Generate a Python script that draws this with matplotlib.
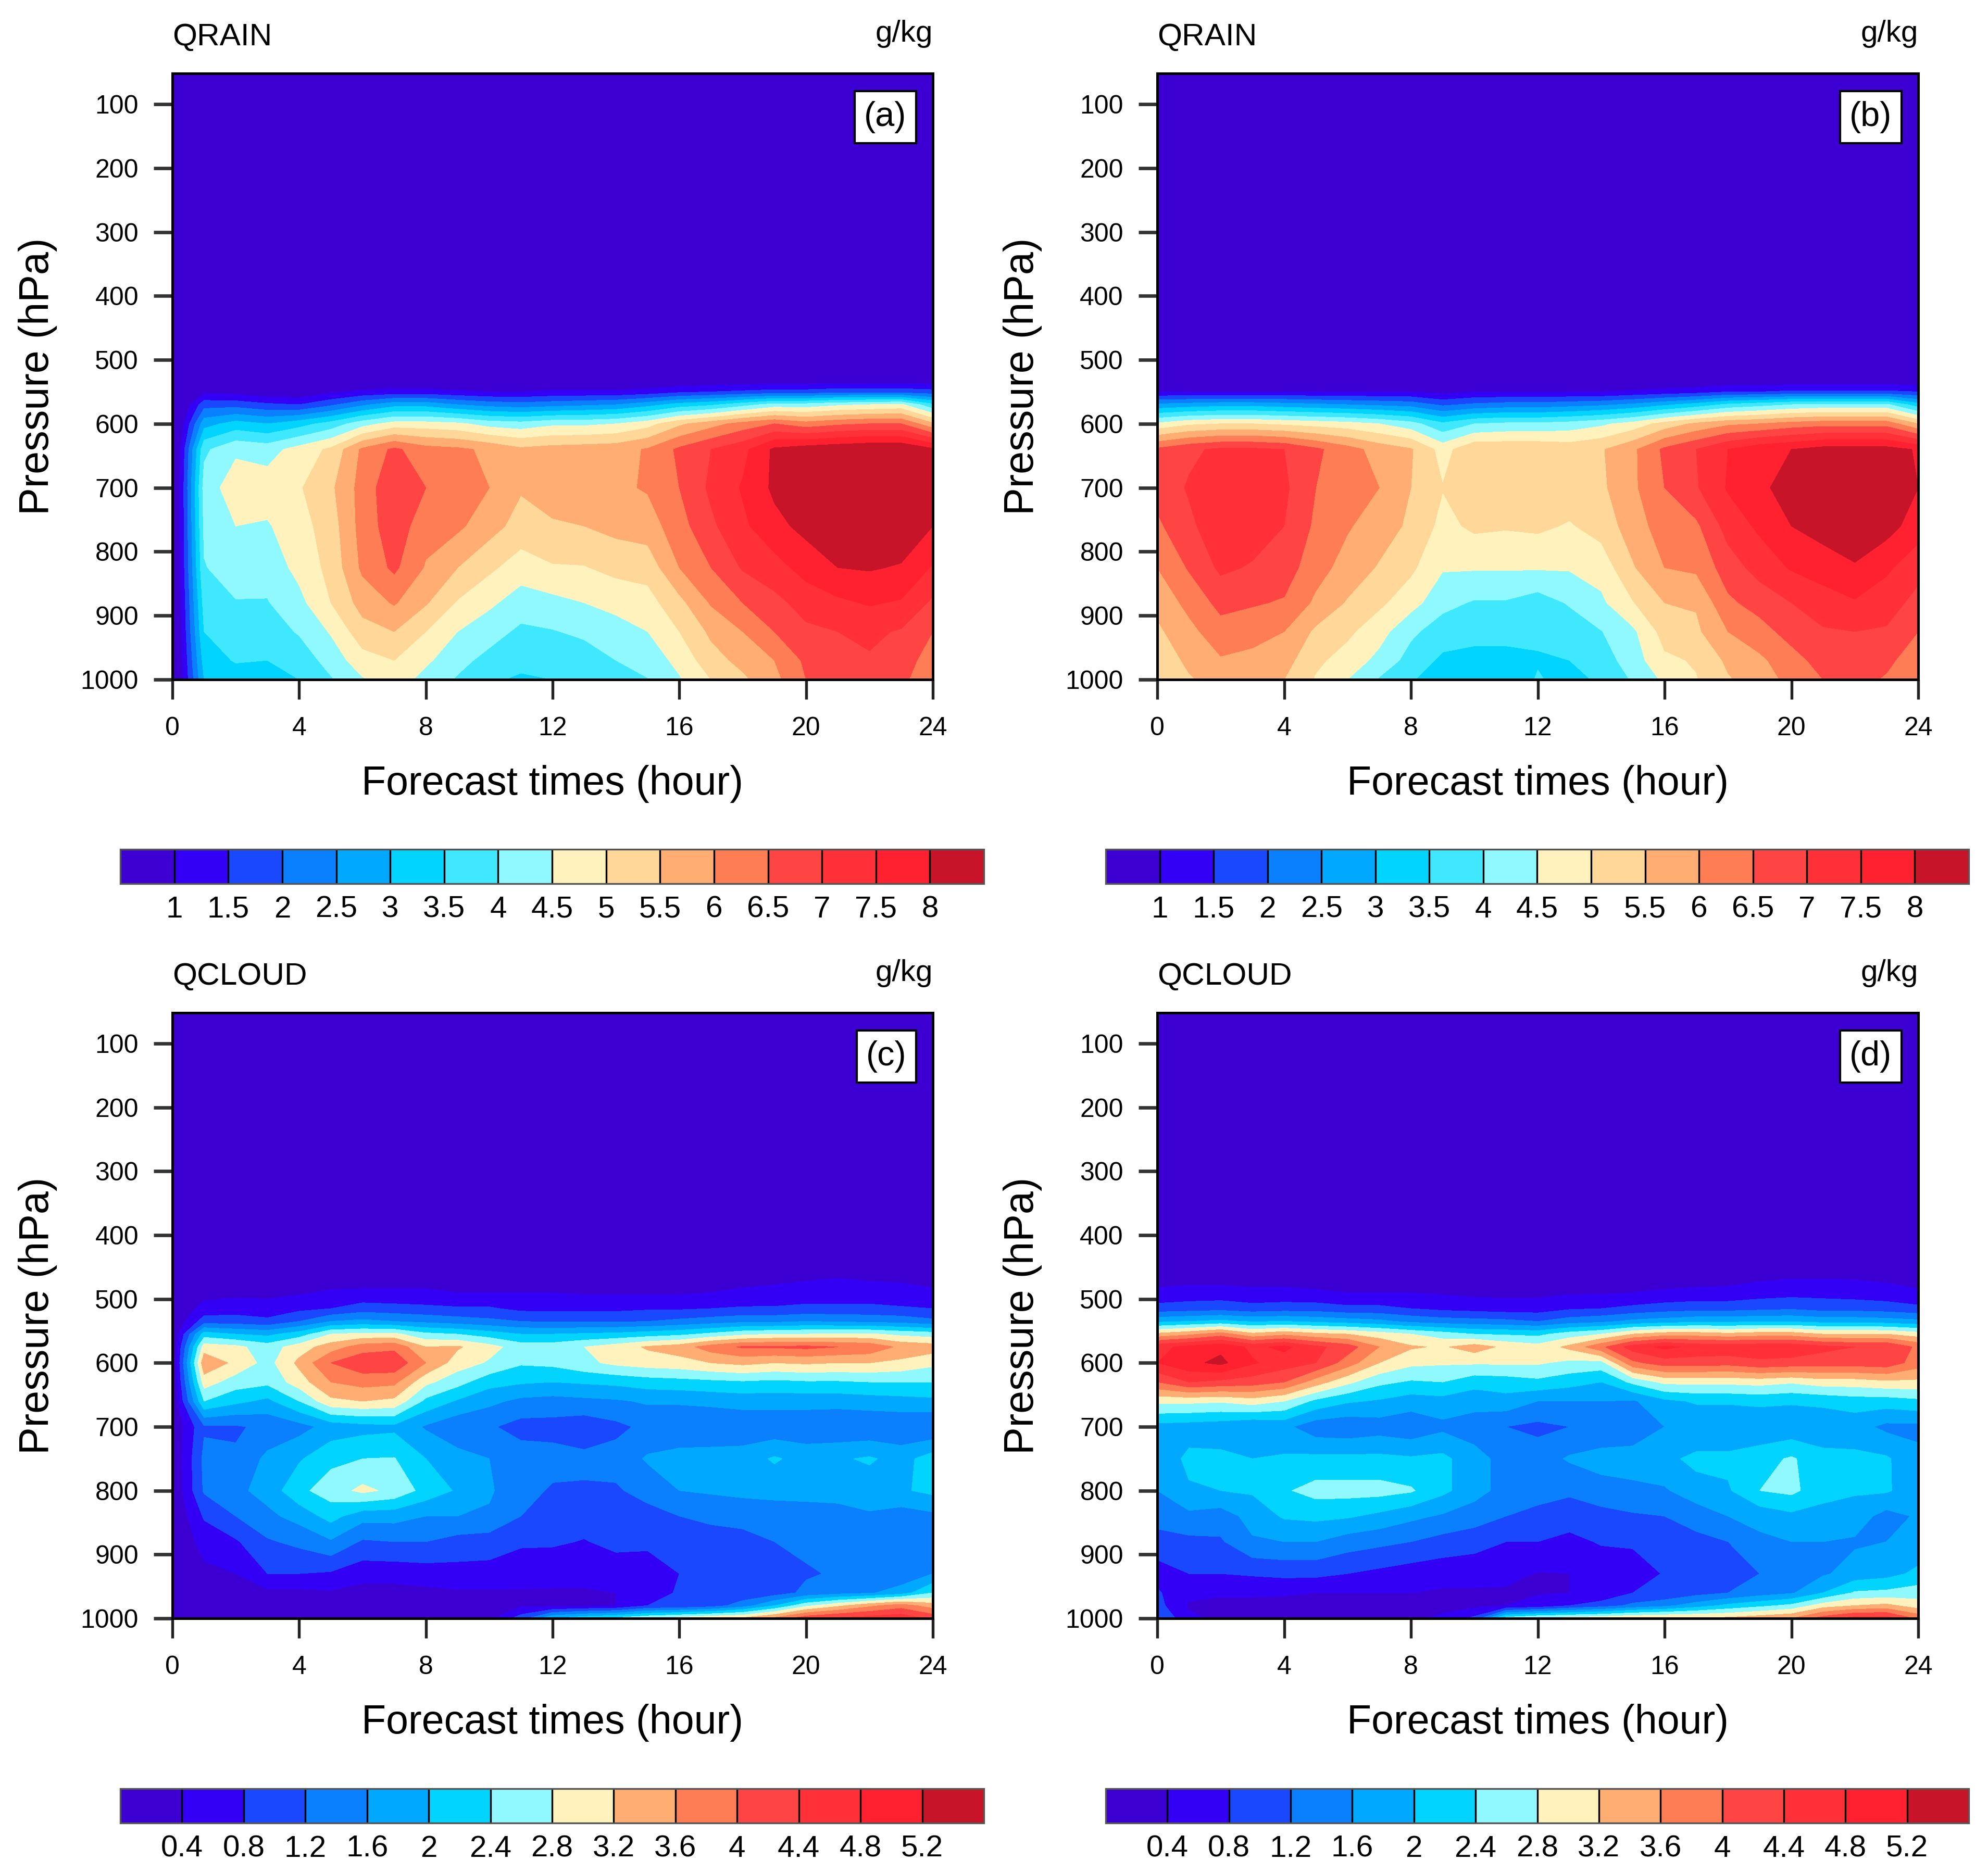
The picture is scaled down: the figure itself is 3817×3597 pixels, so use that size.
import numpy as np
import matplotlib
matplotlib.use("Agg")
import matplotlib.pyplot as plt
from matplotlib.colors import ListedColormap, BoundaryNorm
from matplotlib.patches import Rectangle

plt.rcParams['font.family'] = ['Liberation Sans', 'DejaVu Sans']

hours = list(range(25))
rain_p = [1000, 970, 925, 880, 825, 760, 700, 640, 600, 570, 550, 520, 50]
cloud_p = [1000, 980, 960, 930, 880, 840, 800, 750, 700, 660, 630, 600, 575, 555, 535, 515, 490, 460, 50]

rain_levels = [1, 1.5, 2, 2.5, 3, 3.5, 4, 4.5, 5, 5.5, 6, 6.5, 7, 7.5, 8]
rain_labels = ['1', '1.5', '2', '2.5', '3', '3.5', '4', '4.5', '5', '5.5', '6', '6.5', '7', '7.5', '8']
cloud_levels = [0.4, 0.8, 1.2, 1.6, 2, 2.4, 2.8, 3.2, 3.6, 4, 4.4, 4.8, 5.2]
cloud_labels = ['0.4', '0.8', '1.2', '1.6', '2', '2.4', '2.8', '3.2', '3.6', '4', '4.4', '4.8', '5.2']

rain_colors = ['#3c00d2', '#3300f5', '#1a48ff', '#0a80ff', '#00a8ff', '#00d4ff', '#40e8ff', '#90f8ff',
               '#fff2bd', '#ffd899', '#ffad73', '#ff7d55', '#ff4444', '#ff3038', '#ff2030', '#c81428']
cloud_colors = ['#3c00d2', '#3300f5', '#1a48ff', '#0a80ff', '#00a8ff', '#00d4ff', '#90f8ff',
                '#fff2bd', '#ffad73', '#ff7d55', '#ff4444', '#ff3038', '#ff2030', '#c81428']

# one list per hour, values at rain_p[:-2] (g/kg)
qrain_a = [
 [0, 0, 0, 0, 0, 0, 0, 0, 0, 0, 0],
 [3.0, 3.2, 3.5, 3.7, 3.97, 4.1, 4.2, 3.9, 2.8, 1.8, 0.9],
 [3.2, 3.55, 3.75, 3.97, 4.25, 4.5, 4.8, 4.4, 3.2, 1.8, 0.8],
 [3.3, 3.5, 3.75, 3.97, 4.2, 4.45, 4.75, 4.3, 3.0, 1.6, 0.6],
 [3.5, 3.7, 4.05, 4.35, 4.65, 4.8, 4.95, 4.7, 3.3, 1.5, 0.6],
 [3.95, 4.2, 4.55, 5.0, 5.15, 5.25, 5.4, 5.1, 3.7, 1.9, 0.9],
 [4.45, 4.8, 5.3, 5.7, 6.1, 6.2, 6.2, 6.1, 4.3, 2.4, 1.1],
 [4.8, 5.0, 5.5, 6.05, 6.6, 6.8, 6.9, 6.6, 4.7, 2.8, 1.2],
 [4.3, 4.6, 5.0, 5.55, 5.95, 6.2, 6.5, 6.2, 4.7, 2.8, 1.2],
 [3.95, 4.15, 4.5, 4.95, 5.5, 6.1, 6.4, 6.1, 4.6, 2.5, 1.1],
 [3.55, 3.85, 4.2, 4.6, 5.1, 5.7, 6.0, 5.9, 4.3, 2.3, 1.0],
 [3.45, 3.6, 3.9, 4.25, 4.75, 5.3, 5.55, 5.6, 4.2, 2.2, 1.0],
 [3.5, 3.6, 3.97, 4.35, 4.95, 5.45, 5.7, 5.7, 4.4, 2.3, 1.1],
 [3.6, 3.75, 4.1, 4.5, 4.97, 5.5, 5.75, 5.75, 4.4, 2.4, 1.1],
 [3.75, 4.0, 4.3, 4.65, 5.15, 5.65, 5.9, 5.8, 4.5, 2.5, 1.1],
 [3.98, 4.2, 4.5, 4.8, 5.2, 5.75, 6.05, 6.05, 4.8, 2.8, 1.2],
 [4.45, 4.65, 5.0, 5.35, 6.0, 6.3, 6.5, 6.6, 5.4, 3.2, 1.4],
 [5.0, 5.3, 5.6, 6.05, 6.5, 6.9, 7.1, 7.0, 5.8, 3.4, 1.5],
 [5.4, 5.65, 6.0, 6.5, 7.05, 7.4, 7.55, 7.35, 6.2, 3.8, 1.6],
 [5.85, 6.0, 6.5, 6.85, 7.3, 7.85, 8.1, 8.1, 6.5, 4.2, 1.7],
 [6.5, 6.6, 6.9, 7.2, 7.7, 8.15, 8.4, 8.3, 6.2, 4.2, 1.7],
 [6.8, 6.9, 7.0, 7.4, 8.0, 8.4, 8.6, 8.4, 6.4, 4.4, 1.8],
 [6.85, 6.95, 7.1, 7.55, 8.05, 8.5, 8.7, 8.5, 6.5, 4.5, 1.8],
 [6.6, 6.7, 6.95, 7.45, 7.95, 8.4, 8.6, 8.5, 6.5, 4.6, 1.8],
 [6.2, 6.3, 6.5, 6.9, 7.45, 8.0, 8.4, 8.1, 5.6, 3.6, 1.7],
]
qrain_b = [
 [5.1, 5.2, 5.4, 5.65, 6.0, 6.4, 6.7, 6.6, 4.6, 2.6, 1.0],
 [5.45, 5.6, 5.85, 6.15, 6.55, 6.9, 7.05, 6.9, 4.9, 2.7, 1.0],
 [5.7, 5.95, 6.3, 6.65, 7.1, 7.3, 7.5, 7.1, 5.0, 2.8, 1.0],
 [5.6, 5.85, 6.2, 6.55, 6.95, 7.25, 7.4, 7.1, 5.0, 2.8, 1.0],
 [5.5, 5.7, 6.0, 6.45, 6.75, 7.0, 7.1, 7.0, 4.9, 2.7, 1.0],
 [4.95, 5.1, 5.4, 5.9, 6.2, 6.4, 6.5, 6.6, 4.8, 2.6, 1.0],
 [4.5, 4.8, 5.1, 5.45, 5.8, 6.05, 6.15, 6.2, 4.7, 2.5, 1.0],
 [3.95, 4.35, 4.7, 5.1, 5.45, 5.75, 6.0, 5.8, 4.5, 2.4, 1.0],
 [3.55, 3.8, 4.1, 4.7, 5.1, 5.4, 5.5, 5.55, 4.2, 2.3, 1.0],
 [3.2, 3.4, 3.75, 4.15, 4.55, 4.85, 5.02, 4.8, 3.6, 1.9, 0.85],
 [3.15, 3.4, 3.6, 3.95, 4.55, 5.1, 5.3, 5.4, 4.0, 2.1, 1.0],
 [3.1, 3.35, 3.65, 3.95, 4.55, 5.05, 5.35, 5.4, 4.1, 2.2, 1.0],
 [3.55, 3.45, 3.6, 3.75, 4.55, 5.1, 5.35, 5.4, 4.1, 2.2, 1.0],
 [3.3, 3.5, 3.7, 4.05, 4.55, 4.95, 5.3, 5.3, 4.2, 2.3, 1.0],
 [3.6, 3.75, 3.98, 4.4, 4.7, 5.2, 5.4, 5.45, 4.4, 2.4, 1.0],
 [4.05, 4.25, 4.4, 4.97, 5.45, 5.75, 5.9, 5.9, 4.7, 2.6, 1.1],
 [4.6, 4.9, 5.2, 5.5, 6.0, 6.25, 6.5, 6.6, 5.2, 2.9, 1.2],
 [4.97, 5.05, 5.4, 5.55, 6.1, 6.4, 6.95, 7.0, 5.6, 3.2, 1.3],
 [5.45, 5.6, 6.0, 6.4, 6.75, 7.2, 7.55, 7.5, 5.9, 3.6, 1.5],
 [5.75, 5.9, 6.3, 6.7, 7.2, 7.6, 7.9, 7.85, 6.0, 3.8, 1.5],
 [6.15, 6.3, 6.7, 7.0, 7.55, 8.0, 8.2, 8.0, 6.2, 4.0, 1.6],
 [6.5, 6.7, 6.95, 7.25, 7.75, 8.2, 8.4, 8.2, 6.3, 4.1, 1.6],
 [6.65, 6.75, 7.0, 7.45, 7.95, 8.35, 8.5, 8.2, 6.3, 4.1, 1.6],
 [6.45, 6.6, 6.95, 7.2, 7.6, 8.2, 8.4, 8.2, 6.3, 4.1, 1.6],
 [6.15, 6.25, 6.5, 6.85, 7.15, 7.75, 8.0, 7.95, 5.5, 3.2, 1.5],
]
# one list per hour, values at cloud_p[:-1] (g/kg)
qcloud_c = [
 [0] * 18,
 [.1, .1, .15, .3, .55, .85, 1.25, 1.3, 1.15, 2.4, 3.0, 3.5, 3.0, 2.2, 1.0, .55, .25, .1],
 [.1, .2, .3, .4, .75, 1.2, 1.5, 1.25, 1.15, 2.1, 2.6, 3.1, 2.9, 2.0, 1.0, .6, .3, .1],
 [.1, .15, .3, .8, 1.15, 1.5, 1.75, 1.7, 1.3, 1.9, 2.5, 2.65, 2.6, 1.9, .9, .55, .3, .1],
 [.1, .1, .3, .8, 1.3, 1.75, 2.3, 1.95, 1.45, 2.4, 3.0, 3.3, 3.0, 2.2, 1.2, .7, .35, .15],
 [.1, .1, .35, .75, 1.55, 2.15, 2.6, 2.3, 1.75, 3.1, 3.6, 4.0, 3.4, 2.8, 1.6, .8, .45, .15],
 [.1, .1, .25, .55, 1.15, 1.75, 2.9, 2.4, 1.85, 3.2, 3.75, 4.3, 3.8, 2.9, 1.7, 1.0, .45, .2],
 [.1, .1, .25, .55, 1.2, 1.75, 2.7, 2.42, 1.9, 3.1, 3.7, 4.3, 3.9, 2.9, 1.6, .95, .45, .2],
 [.1, .15, .3, .6, 1.2, 1.6, 2.25, 2.0, 1.55, 2.3, 2.9, 3.6, 3.2, 2.5, 1.5, .9, .45, .2],
 [.15, .25, .35, .65, 1.05, 1.6, 1.95, 1.75, 1.3, 1.95, 2.55, 3.0, 3.25, 2.4, 1.4, .85, .4, .2],
 [.3, .3, .35, .65, 1.0, 1.55, 1.65, 1.6, 1.25, 1.7, 2.15, 2.75, 2.95, 2.2, 1.3, .85, .4, .2],
 [1.0, .35, .35, .6, .85, 1.2, 1.35, 1.4, 1.05, 1.5, 2.05, 2.45, 2.6, 2.0, 1.2, .7, .4, .2],
 [2.0, .3, .35, .55, .85, 1.15, 1.15, 1.35, 1.05, 1.45, 2.0, 2.5, 2.6, 2.0, 1.15, .7, .4, .2],
 [2.3, .35, .35, .55, .78, .95, 1.15, 1.3, .95, 1.5, 2.05, 2.7, 2.8, 2.05, 1.15, .7, .35, .2],
 [2.5, .4, .4, .6, .9, .95, 1.15, 1.35, 1.1, 1.55, 2.1, 2.9, 3.0, 2.1, 1.15, .7, .35, .2],
 [2.8, .8, .6, .55, .9, 1.05, 1.35, 1.65, 1.3, 1.65, 2.2, 3.0, 3.25, 2.2, 1.2, .75, .35, .2],
 [3.0, .85, .85, .8, .95, 1.2, 1.6, 1.75, 1.3, 1.65, 2.25, 3.05, 3.4, 2.3, 1.3, .75, .35, .2],
 [3.2, 1.0, .85, .9, 1.0, 1.3, 1.65, 1.8, 1.25, 1.7, 2.3, 3.2, 3.8, 2.5, 1.4, .8, .4, .2],
 [3.3, 1.4, .9, 1.0, 1.05, 1.35, 1.7, 1.8, 1.3, 1.75, 2.35, 3.3, 4.05, 2.7, 1.5, .85, .45, .25],
 [3.7, 2.0, 1.0, 1.05, 1.2, 1.35, 1.75, 2.05, 1.3, 1.75, 2.3, 3.2, 4.05, 2.8, 1.5, .85, .5, .25],
 [4.3, 2.7, 1.3, 1.15, 1.3, 1.4, 1.75, 1.85, 1.3, 1.75, 2.35, 3.25, 4.1, 2.8, 1.6, .9, .55, .3],
 [4.5, 3.1, 1.45, 1.25, 1.3, 1.45, 1.75, 1.95, 1.25, 1.75, 2.35, 3.2, 4.0, 2.85, 1.55, .9, .55, .35],
 [4.6, 3.5, 1.55, 1.25, 1.35, 1.55, 1.8, 2.05, 1.25, 1.8, 2.4, 3.2, 3.9, 2.85, 1.5, .9, .55, .3],
 [4.7, 3.8, 1.8, 1.3, 1.45, 1.4, 1.95, 1.85, 1.25, 1.85, 2.4, 3.1, 3.5, 2.7, 1.45, .85, .5, .3],
 [4.3, 3.4, 2.4, 1.6, 1.6, 1.5, 2.1, 2.2, 1.2, 1.9, 2.4, 2.9, 3.4, 2.6, 1.3, .8, .45, .25],
]
qcloud_d = [
 [1.2, .95, .85, .65, 1.0, 1.4, 1.6, 1.7, 1.85, 2.9, 4.0, 4.8, 4.7, 3.3, 1.9, .95, .5, .15],
 [.5, .35, .5, .8, 1.1, 1.5, 1.95, 2.1, 1.8, 2.9, 4.4, 5.1, 4.9, 3.5, 2.0, 1.0, .55, .15],
 [.3, .3, .45, .8, 1.15, 1.4, 2.0, 2.1, 1.75, 2.85, 4.3, 5.3, 5.1, 3.8, 2.1, 1.05, .55, .15],
 [.2, .3, .45, .85, 1.55, 1.75, 2.05, 2.0, 1.6, 3.0, 4.2, 4.85, 4.7, 3.3, 1.95, .95, .5, .15],
 [.2, .25, .45, .9, 1.6, 2.05, 2.35, 2.05, 1.7, 2.8, 4.0, 4.6, 4.9, 3.5, 2.0, 1.0, .5, .15],
 [.15, .2, .4, .9, 1.6, 2.1, 2.55, 2.1, 1.35, 2.3, 3.4, 4.4, 4.5, 3.3, 1.9, 1.0, .45, .15],
 [.1, .2, .4, .8, 1.4, 2.05, 2.55, 2.1, 1.3, 2.05, 2.9, 3.8, 4.2, 3.2, 1.8, .9, .4, .15],
 [.1, .2, .4, .7, 1.3, 1.9, 2.55, 2.1, 1.4, 1.95, 2.5, 3.2, 3.6, 3.0, 1.7, .9, .4, .15],
 [.3, .2, .4, .6, 1.2, 1.7, 2.45, 2.05, 1.3, 1.8, 2.35, 2.9, 3.25, 2.8, 1.5, .8, .4, .15],
 [.5, .25, .35, .55, 1.05, 1.55, 2.1, 2.1, 1.5, 1.85, 2.4, 2.85, 3.15, 2.6, 1.4, .7, .35, .15],
 [.9, .3, .35, .55, .95, 1.4, 1.75, 1.75, 1.4, 1.75, 2.15, 2.85, 3.4, 2.4, 1.35, .65, .3, .12],
 [2.6, .4, .35, .5, .8, 1.2, 1.45, 1.45, 1.2, 1.85, 2.2, 2.85, 3.1, 2.35, 1.3, .6, .3, .12],
 [2.9, .5, .38, .38, .8, 1.05, 1.4, 1.4, 1.1, 1.6, 2.3, 2.85, 2.95, 2.3, 1.2, .6, .3, .12],
 [3.0, .8, .4, .4, .65, 1.05, 1.25, 1.65, 1.2, 1.6, 2.15, 2.7, 3.3, 2.6, 1.4, .75, .35, .12],
 [3.1, 1.0, .45, .45, .85, 1.05, 1.45, 1.75, 1.3, 1.6, 2.0, 2.65, 3.9, 2.8, 1.5, .8, .35, .12],
 [3.25, 1.3, .8, .45, .9, 1.15, 1.5, 1.8, 1.3, 1.55, 2.5, 3.9, 4.6, 3.2, 1.7, .9, .4, .15],
 [3.3, 1.5, .85, .85, 1.0, 1.2, 1.55, 1.9, 1.6, 1.9, 2.9, 4.2, 4.9, 3.4, 1.8, 1.0, .45, .15],
 [3.3, 1.8, 1.05, 1.05, 1.1, 1.35, 1.85, 2.1, 1.65, 2.05, 2.9, 4.2, 4.7, 3.4, 1.9, 1.05, .5, .15],
 [3.3, 2.1, 1.2, 1.05, 1.2, 1.6, 1.95, 2.1, 1.65, 2.05, 2.9, 4.15, 4.7, 3.3, 1.9, 1.05, .5, .2],
 [3.45, 2.3, 1.4, 1.2, 1.5, 1.75, 2.4, 2.25, 1.65, 2.1, 2.95, 4.3, 4.7, 3.4, 1.95, 1.1, .6, .25],
 [3.6, 2.5, 1.55, 1.45, 1.6, 1.9, 2.5, 2.45, 1.7, 2.05, 2.85, 4.25, 4.7, 3.4, 1.95, 1.15, .65, .3],
 [4.2, 3.0, 2.0, 1.55, 1.6, 1.85, 2.15, 2.15, 1.7, 2.1, 3.0, 4.2, 4.5, 3.2, 1.85, 1.05, .65, .3],
 [4.6, 3.2, 2.45, 1.75, 1.55, 1.8, 2.05, 2.1, 1.75, 2.2, 3.0, 4.2, 4.4, 3.2, 1.85, 1.05, .6, .3],
 [4.6, 3.3, 2.5, 1.85, 1.6, 1.45, 2.05, 2.05, 1.5, 2.2, 3.1, 4.25, 4.4, 3.2, 1.8, 1.0, .55, .25],
 [3.9, 3.0, 2.6, 2.1, 1.7, 1.65, 1.75, 1.7, 1.5, 2.3, 3.1, 3.8, 3.9, 3.0, 1.7, .9, .45, .2],
]

W, H = 3817, 3597
fig = plt.figure(figsize=(W / 300, H / 300), dpi=300, facecolor='white')


def frac_axes(l, t, r, b):
    return fig.add_axes([l / W, 1 - b / H, (r - l) / W, (b - t) / H])


def panel(box, cbox, p, rows, levels, labels, colors, title, tag, tagbox):
    ax = frac_axes(*box)
    z = np.array(rows, dtype=float).T
    # field is zero above the top listed level
    if z.shape[0] == len(p) - 2:
        z = np.vstack([z, np.zeros((2, z.shape[1]))])
    else:
        z = np.vstack([z, np.zeros((1, z.shape[1]))])
    cmap = ListedColormap(colors[1:-1])
    cmap.set_under(colors[0])
    cmap.set_over(colors[-1])
    norm = BoundaryNorm(levels, cmap.N)
    cs = ax.contourf(hours, p, z, levels=levels, cmap=cmap, norm=norm, extend='both', antialiased=False)
    ax.set_xlim(0, 24)
    ax.set_ylim(1000, 52)
    ax.set_xticks(range(0, 25, 4))
    ax.set_yticks(range(100, 1001, 100))
    ax.tick_params(axis='x', length=9, width=1.3, pad=8, labelsize=12, color='#222222')
    ax.tick_params(axis='y', length=8.6, width=1.6, pad=7, labelsize=12, color='#333333')
    for s in ax.spines.values():
        s.set_linewidth(1.2)
    ax.set_xlabel('Forecast times (hour)', fontsize=18.5, va='center')
    ax.xaxis.set_label_coords(0.5, -0.172)
    ax.set_ylabel('Pressure (hPa)', fontsize=19, va='center')
    ax.yaxis.set_label_coords(-0.177, 0.5)
    ax.text(0.0, 1.06, title, transform=ax.transAxes, ha='left', va='center', fontsize=14.5)
    ax.text(1.0, 1.065, 'g/kg', transform=ax.transAxes, ha='right', va='center', fontsize=14)
    l, t, r, b = tagbox
    ax.add_patch(Rectangle((l, t), r - l, b - t, transform=ax.transAxes, facecolor='white',
                           edgecolor='black', linewidth=1.0, zorder=5))
    ax.text((l + r) / 2, (t + b) / 2, tag, transform=ax.transAxes, ha='center', va='center',
            fontsize=16, zorder=6)
    cax = frac_axes(*cbox)
    cb = fig.colorbar(cs, cax=cax, orientation='horizontal', spacing='uniform', extend='both',
                      extendfrac='auto', extendrect=True, drawedges=True)
    cb.set_ticks(levels)
    cb.set_ticklabels(labels)
    cb.ax.tick_params(length=0, pad=5.5, labelsize=14)
    cb.ax.minorticks_off()
    cb.outline.set_linewidth(0.8)
    cb.outline.set_edgecolor('#555555')
    cb.dividers.set_linewidth(0.8)
    cb.dividers.set_color('black')
    return ax


axl, axr = 331, 1791
bxl, bxr = 2222, 3683
top1, bot1 = 141, 1305
top2, bot2 = 1945, 3108
cbl, cbr = 231, 1889
dbl, dbr = 2123, 3780

panel((axl, top1, axr, bot1), (cbl, 1631, cbr, 1697), rain_p, qrain_a, rain_levels, rain_labels, rain_colors,
      'QRAIN', '(a)', (0.897, 0.885, 0.978, 0.971))
panel((bxl, top1, bxr, bot1), (dbl, 1631, dbr, 1697), rain_p, qrain_b, rain_levels, rain_labels, rain_colors,
      'QRAIN', '(b)', (0.897, 0.885, 0.978, 0.971))
panel((axl, top2, axr, bot2), (cbl, 3435, cbr, 3501), cloud_p, qcloud_c, cloud_levels, cloud_labels, cloud_colors,
      'QCLOUD', '(c)', (0.90, 0.885, 0.978, 0.971))
panel((bxl, top2, bxr, bot2), (dbl, 3435, dbr, 3501), cloud_p, qcloud_d, cloud_levels, cloud_labels, cloud_colors,
      'QCLOUD', '(d)', (0.897, 0.885, 0.978, 0.971))

fig.savefig('out.png', dpi=300, facecolor='white')
